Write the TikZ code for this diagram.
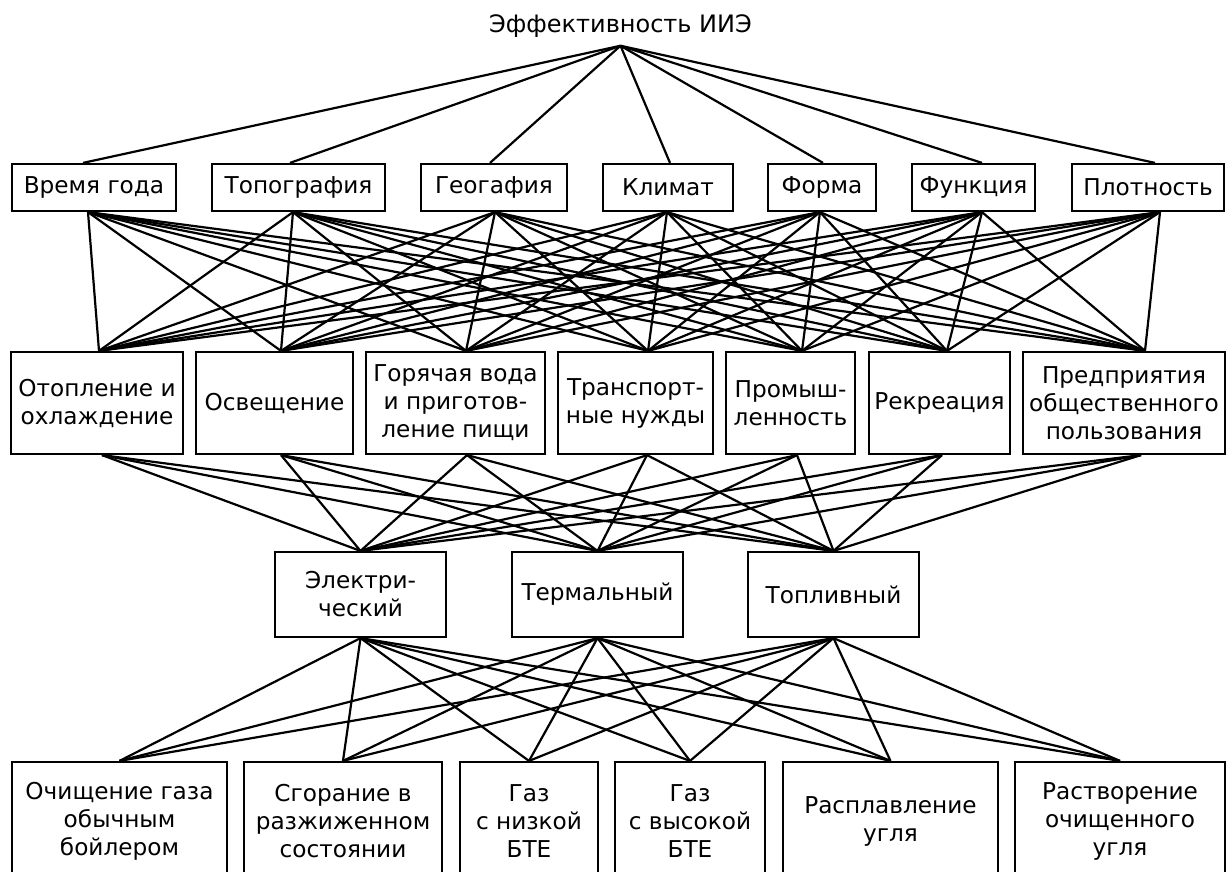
\documentclass[tikz,border=0pt]{standalone}
\usepackage{fontspec}
\setmainfont{DejaVu Sans}

\begin{document}
\begin{tikzpicture}[x=0.5pt,y=-0.5pt,line width=1.1pt,
  box/.style={draw,align=center,inner sep=0pt,font=\fontsize{11.6}{14}\selectfont}]
\useasboundingbox (0,0) rectangle (1226,872);
\clip (0,0) rectangle (1226,872);

\node[font=\fontsize{12}{14}\selectfont,anchor=base] (E) at (620.5,33) {Эффективность ИИЭ};

\node[box,minimum width=82pt,minimum height=23.5pt] (F1) at (94,187.5) {Время года};
\node[box,minimum width=86.5pt,minimum height=23.5pt] (F2) at (298.5,187.5) {Топография};
\node[box,minimum width=73pt,minimum height=23.5pt] (F3) at (494,187.5) {Геогафия};
\node[box,minimum width=65pt,minimum height=23.5pt] (F4) at (668,187.5) {Климат};
\node[box,minimum width=54pt,minimum height=23.5pt] (F5) at (822,187.5) {Форма};
\node[box,minimum width=61.5pt,minimum height=23.5pt] (F6) at (973.5,187.5) {Функция};
\node[box,minimum width=76pt,minimum height=23.5pt] (F7) at (1148,187.5) {Плотность};

\node[box,minimum width=86pt,minimum height=51pt] (U1) at (97,403) {Отопление и\\охлаждение};
\node[box,minimum width=78.5pt,minimum height=51pt] (U2) at (274.5,403) {Освещение};
\node[box,minimum width=89.5pt,minimum height=51pt] (U3) at (455.5,403) {Горячая вода\\и приготов-\\ление пищи};
\node[box,minimum width=77.5pt,minimum height=51pt] (U4) at (635.5,403) {Транспорт-\\ные нужды};
\node[box,minimum width=64.5pt,minimum height=51pt] (U5) at (790.5,403) {Промыш-\\ленность};
\node[box,minimum width=70.5pt,minimum height=51pt] (U6) at (939.5,403) {Рекреация};
\node[box,minimum width=101pt,minimum height=51pt] (U7) at (1124,403) {Предприятия\\общественного\\пользования};

\node[box,minimum width=85.5pt,minimum height=42.5pt] (K1) at (360.5,594.5) {Электри-\\ческий};
\node[box,minimum width=85.5pt,minimum height=42.5pt] (K2) at (597.5,594.5) {Термальный};
\node[box,minimum width=85.5pt,minimum height=42.5pt] (K3) at (833.5,594.5) {Топливный};

\node[box,minimum width=107.5pt,minimum height=59pt] (P1) at (119.5,821) {Очищение газа\\обычным\\бойлером};
\node[box,minimum width=99pt,minimum height=59pt] (P2) at (343,821) {Сгорание в\\разжиженном\\состоянии};
\node[box,minimum width=69pt,minimum height=59pt] (P3) at (529,821) {Газ\\с низкой\\БТЕ};
\node[box,minimum width=75pt,minimum height=59pt] (P4) at (690,821) {Газ\\с высокой\\БТЕ};
\node[box,minimum width=107.5pt,minimum height=59pt] (P5) at (890.5,821) {Расплавление\\угля};
\node[box,minimum width=105pt,minimum height=59pt] (P6) at (1120,821) {Растворение\\очищенного\\угля};

\coordinate (F1n) at ([xshift=-5.5pt]F1.north); \coordinate (F2n) at ([xshift=-4.25pt]F2.north);
\coordinate (F3n) at ([xshift=-2pt]F3.north); \coordinate (F4n) at ([xshift=1pt]F4.north);
\coordinate (F5n) at ([xshift=0.5pt]F5.north); \coordinate (F6n) at ([xshift=4.25pt]F6.north);
\coordinate (F7n) at ([xshift=3.5pt]F7.north);
\coordinate (F1s) at ([xshift=-3pt]F1.south); \coordinate (F2s) at ([xshift=-2.75pt]F2.south);
\coordinate (F3s) at ([xshift=0.5pt]F3.south); \coordinate (F4s) at ([xshift=-0.5pt]F4.south);
\coordinate (F5s) at ([xshift=-1pt]F5.south); \coordinate (F6s) at ([xshift=4.25pt]F6.south);
\coordinate (F7s) at ([xshift=6pt]F7.south);
\coordinate (U1n) at ([xshift=1pt]U1.north); \coordinate (U2n) at ([xshift=3.25pt]U2.north);
\coordinate (U3n) at ([xshift=5.25pt]U3.north); \coordinate (U4n) at ([xshift=6.25pt]U4.north);
\coordinate (U5n) at ([xshift=5.75pt]U5.north); \coordinate (U6n) at ([xshift=3.75pt]U6.north);
\coordinate (U7n) at ([xshift=10.5pt]U7.north);
\coordinate (U1s) at ([xshift=2.5pt]U1.south); \coordinate (U2s) at ([xshift=3.25pt]U2.south);
\coordinate (U3s) at ([xshift=5.75pt]U3.south); \coordinate (U4s) at ([xshift=5.75pt]U4.south);
\coordinate (U5s) at ([xshift=3.25pt]U5.south); \coordinate (U6s) at ([xshift=1.25pt]U6.south);
\coordinate (U7s) at ([xshift=8.5pt]U7.south);

\draw (E.south) edge (F1n) edge (F2n) edge (F3n) edge (F4n) edge (F5n) edge (F6n) edge (F7n);

\draw (F1s) edge (U1n) edge (U2n) edge (U3n) edge (U4n) edge (U5n) edge (U6n) edge (U7n);
\draw (F2s) edge (U1n) edge (U2n) edge (U3n) edge (U4n) edge (U5n) edge (U6n) edge (U7n);
\draw (F3s) edge (U1n) edge (U2n) edge (U3n) edge (U4n) edge (U5n) edge (U6n) edge (U7n);
\draw (F4s) edge (U1n) edge (U2n) edge (U3n) edge (U4n) edge (U5n) edge (U6n) edge (U7n);
\draw (F5s) edge (U1n) edge (U2n) edge (U3n) edge (U4n) edge (U5n) edge (U6n) edge (U7n);
\draw (F6s) edge (U1n) edge (U2n) edge (U3n) edge (U4n) edge (U5n) edge (U6n) edge (U7n);
\draw (F7s) edge (U1n) edge (U2n) edge (U3n) edge (U4n) edge (U5n) edge (U6n) edge (U7n);

\draw (U1s) edge (K1.north) edge (K2.north) edge (K3.north);
\draw (U2s) edge (K1.north) edge (K2.north) edge (K3.north);
\draw (U3s) edge (K1.north) edge (K2.north) edge (K3.north);
\draw (U4s) edge (K1.north) edge (K2.north) edge (K3.north);
\draw (U5s) edge (K1.north) edge (K2.north) edge (K3.north);
\draw (U6s) edge (K1.north) edge (K2.north) edge (K3.north);
\draw (U7s) edge (K1.north) edge (K2.north) edge (K3.north);

\draw (K1.south) edge (P1.north) edge (P2.north) edge (P3.north) edge (P4.north) edge (P5.north) edge (P6.north);
\draw (K2.south) edge (P1.north) edge (P2.north) edge (P3.north) edge (P4.north) edge (P5.north) edge (P6.north);
\draw (K3.south) edge (P1.north) edge (P2.north) edge (P3.north) edge (P4.north) edge (P5.north) edge (P6.north);

\end{tikzpicture}
\end{document}
